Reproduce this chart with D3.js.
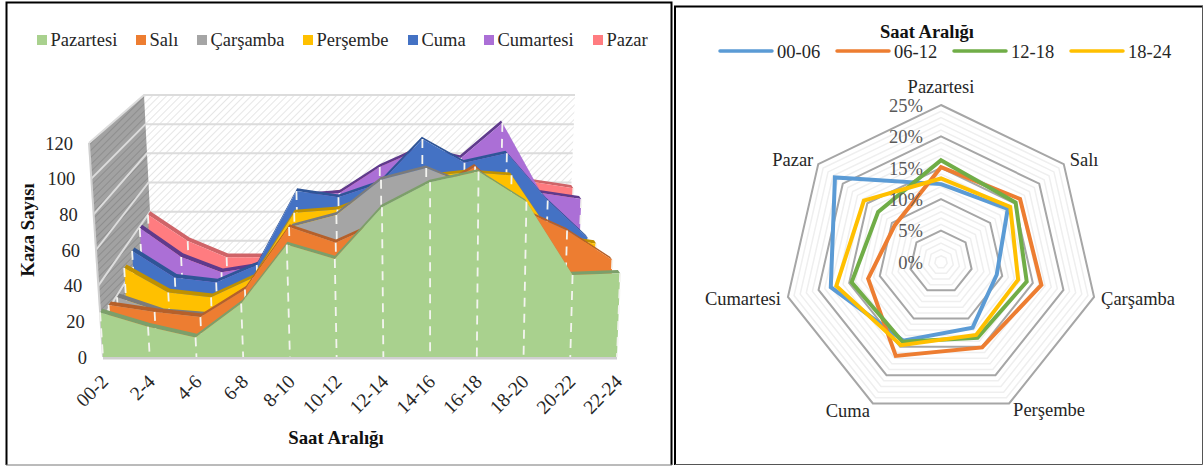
<!DOCTYPE html>
<html lang="tr">
<head>
<meta charset="utf-8">
<script src="https://cdn.jsdelivr.net/npm/d3@7"></script>
<style>
    html, body { margin: 0; padding: 0; background: #fff; }
    text { font-family: "Liberation Serif", "Times New Roman", serif; fill: #262626; }
    .bold { font-weight: bold; fill: #111; }
</style>
</head>
<body>
<div id="chart"></div>
<script>
// left chart data
var hours = ["00-2","2-4","4-6","6-8","8-10","10-12","12-14","14-16","16-18","18-20","20-22","22-24"];
var days = ["Pazartesi","Salı","Çarşamba","Perşembe","Cuma","Cumartesi","Pazar"];
var pazartesi = [25,17,11,30,63,55,84,98,104,87,46,47];
var sali      = [22,18,15,31,67,58,70,85,102,77,65,48];
var carsamba  = [19,10,8,25,61,68,89,96,85,72,55,38];
var persembe  = [29,14,11,23,63,65,75,85,88,86,48,44];
var cuma      = [32,15,12,23,70,66,75,103,88,94,64,40];
var cumartesi = [39,20,10,14,60,62,79,91,85,108,62,58];
var pazar     = [40,22,11,11,50,55,70,85,70,95,62,58];
var yTicks = [0,20,40,60,80,100,120];

// right chart data
var ranges = ["00-06","06-12","12-18","18-24"];
var r0006 = [12.4,13.6,9.1,11.6,13.9,18.0,21.6];
var r0612 = [15.1,16.1,16.4,15.1,16.6,11.9,9.4];
var r1218 = [16.2,15.2,14.0,13.4,14.1,14.6,12.8];
var r1824 = [13.3,14.1,12.6,12.9,14.7,17.1,15.7];
var rMajor = [0,5,10,15,20,25];

var areaSeries = [pazartesi, sali, carsamba, persembe, cuma, cumartesi, pazar];
var radarSeries = [r0006, r0612, r1218, r1824];

var faceColors = ["#a9d18e","#ed7d31","#a5a5a5","#ffc000","#4472c4","#ab6fd6","#ff7c80"];
var edgeColors = ["#7c9f6a","#b5602a","#7b7b7b","#bf9000","#2f5597","#5f3a8c","#cf6468"];
var radarColors = ["#5b9bd5","#ed7d31","#70ad47","#ffc000"];

var svg = d3.select("#chart").append("svg")
    .attr("width", 1203)
    .attr("height", 466)
    .style("display", "block");

// panel frames
svg.append("path").attr("d", "M6.5,465 V2.5 H671.5 V465").attr("fill", "none").attr("stroke", "#000").attr("stroke-width", 2);
svg.append("line").attr("x1", 6).attr("x2", 672).attr("y1", 465).attr("y2", 465).attr("stroke", "#777").attr("stroke-width", 1);
svg.append("path").attr("d", "M675,465 V6.5 H1203").attr("fill", "none").attr("stroke", "#000").attr("stroke-width", 2);
svg.append("path").attr("d", "M1202.5,6 V464.5 H675").attr("fill", "none").attr("stroke", "#555").attr("stroke-width", 1);

var defs = svg.append("defs");
function hatch(id, bg, fg) {
    var p = defs.append("pattern").attr("id", id)
        .attr("width", 5).attr("height", 5)
        .attr("patternUnits", "userSpaceOnUse")
        .attr("patternTransform", "rotate(45)");
    p.append("rect").attr("width", 5).attr("height", 5).attr("fill", bg);
    p.append("line").attr("x1", 0).attr("x2", 0).attr("y1", 0).attr("y2", 5).attr("stroke", fg).attr("stroke-width", 2);
}
hatch("backHatch", "#ffffff", "#e6e6e6");
hatch("sideHatch", "#a2a2a2", "#8e8e8e");

drawArea3d();
drawRadar();

/*
 * 3D stacked-in-depth area chart, t is the depth (0 front, 1 back wall)
 */
function drawArea3d() {
    var g = svg.append("g");

    var index = d3.scaleLinear().domain([0, hours.length - 1]).range([0, 1]);
    var frac = d3.scaleLinear().domain([0, 120]).range([0, 1]);
    function lerp(a, b, t) {
        return a + (b - a) * t;
    }

    function yAt(t) {
        return d3.scaleLinear().domain([0, 120]).range([lerp(357, 270, t), lerp(143, 95, t)]);
    }
    function xAt(i, v, t) {
        var base = lerp(lerp(103, 153, t), lerp(617, 568, t), index(i));
        var top = lerp(lerp(89, 144, t), lerp(625, 575, t), index(i));
        return lerp(base, top, frac(v));
    }
    function pt(i, v, t) {
        return [xAt(i, v, t), yAt(t)(v)];
    }
    var line = d3.line();

    // walls
    g.append("path")
        .attr("d", line([pt(0, 0, 1), pt(0, 120, 1), pt(11, 120, 1), pt(11, 0, 1)]) + "Z")
        .attr("fill", "url(#backHatch)");
    g.append("path")
        .attr("d", line([pt(0, 0, 0), pt(0, 120, 0), pt(0, 120, 1), pt(0, 0, 1)]) + "Z")
        .attr("fill", "url(#sideHatch)");

    // gridlines on both walls
    yTicks.forEach(function(v) {
        g.append("path")
            .attr("d", line([pt(0, v, 0), pt(0, v, 1), pt(11, v, 1)]))
            .attr("fill", "none")
            .attr("stroke", "#dcdcdc")
            .attr("stroke-width", 2);
    });
    g.append("line")
        .attr("x1", xAt(0, 0, 0)).attr("y1", yAt(0)(0))
        .attr("x2", xAt(0, 120, 0)).attr("y2", yAt(0)(120))
        .attr("stroke", "#d0d0d0").attr("stroke-width", 2);
    g.append("line")
        .attr("x1", xAt(11, 0, 0)).attr("y1", yAt(0)(0) + 1)
        .attr("x2", xAt(0, 0, 0)).attr("y2", yAt(0)(0) + 1)
        .attr("stroke", "#cfcfcf").attr("stroke-width", 3);

    // series, back to front
    var depths = [0, 0.16, 0.32, 0.48, 0.64, 0.8, 0.96];
    var thick = 0.045;

    d3.range(areaSeries.length - 1, -1, -1).forEach(function(s) {
        var vals = areaSeries[s];
        var t = depths[s];

        var frontTop = vals.map(function(v, i) { return pt(i, v, t); });
        var backTop = vals.map(function(v, i) { return pt(i, v, t + thick); }).reverse();

        g.append("path")
            .attr("d", line(frontTop.concat(backTop)) + "Z")
            .attr("fill", edgeColors[s]);

        var face = frontTop.concat([pt(hours.length - 1, 0, t), pt(0, 0, t)]);
        g.append("path")
            .attr("d", line(face) + "Z")
            .attr("fill", faceColors[s]);

        // white dashed drop lines
        vals.forEach(function(v, i) {
            g.append("line")
                .attr("x1", xAt(i, v, t)).attr("y1", yAt(t)(v))
                .attr("x2", xAt(i, 0, t)).attr("y2", yAt(t)(0))
                .attr("stroke", "#f4f4f0")
                .attr("stroke-width", 1.8)
                .attr("stroke-dasharray", "9,7");
        });
    });

    // value labels follow the slanted front edge
    g.selectAll(".ytick").data(yTicks).enter().append("text")
        .attr("class", "ytick")
        .attr("x", function(d) { return xAt(0, d, 0) - 16; })
        .attr("y", function(d) { return yAt(0)(d) + 2.5; })
        .attr("text-anchor", "end")
        .attr("dominant-baseline", "middle")
        .style("font-size", "18.5px")
        .text(function(d) { return d; });

    // category axis
    var xScale = d3.scalePoint().domain(hours).range([103, 617]);
    var xAxis = d3.axisBottom(xScale).tickSize(0);
    var ax = g.append("g").attr("transform", "translate(0,378)").call(xAxis);
    ax.select(".domain").remove();
    ax.selectAll("text")
        .attr("x", 0).attr("y", 0).attr("dy", "0.35em")
        .attr("text-anchor", "end")
        .attr("transform", "translate(1,0) rotate(-45)")
        .style("font-size", "19.5px")
        .style("font-family", '"Liberation Serif", serif')
        .style("fill", "#262626");

    g.append("text").attr("class", "bold")
        .attr("x", 336).attr("y", 440)
        .attr("text-anchor", "middle").attr("dominant-baseline", "middle")
        .style("font-size", "18.8px")
        .text("Saat Aralığı");

    g.append("text").attr("class", "bold")
        .attr("transform", "translate(30,230) rotate(-90)")
        .attr("text-anchor", "middle").attr("dominant-baseline", "middle")
        .style("font-size", "18.8px")
        .text("Kaza Sayısı");

    // legend
    var legendX = [37, 136, 197, 303, 408, 484, 593];
    days.forEach(function(d, i) {
        g.append("rect")
            .attr("x", legendX[i]).attr("y", 35)
            .attr("width", 10).attr("height", 10)
            .attr("fill", faceColors[i]);
        g.append("text")
            .attr("x", legendX[i] + 13.5).attr("y", 41.5)
            .attr("dominant-baseline", "middle")
            .style("font-size", "18.5px")
            .text(d);
    });
}

/*
 * Radar chart
 */
function drawRadar() {
    var cx = 941, cy = 262;
    var g = svg.append("g").attr("transform", "translate(" + cx + "," + cy + ")");

    var r = d3.scaleLinear().domain([0, 25]).range([0, 157]);
    var angle = d3.scalePoint().domain(d3.range(days.length + 1)).range([0, 2 * Math.PI]);

    var radial = d3.lineRadial()
        .angle(function(d, i) { return angle(i); })
        .radius(function(d) { return r(d); })
        .curve(d3.curveLinearClosed);

    // 1% minor rings, then the major ones on top
    d3.range(1, 25).forEach(function(v) {
        if (v % 5 === 0) return;
        g.append("path")
            .attr("d", radial(days.map(function() { return v; })))
            .attr("fill", "none")
            .attr("stroke", "#efefef")
            .attr("stroke-width", 1.5);
    });
    rMajor.slice(1).forEach(function(v) {
        g.append("path")
            .attr("d", radial(days.map(function() { return v; })))
            .attr("fill", "none")
            .attr("stroke", "#a6a6a6")
            .attr("stroke-width", 2);
    });

    radarSeries.forEach(function(vals, i) {
        g.append("path")
            .attr("d", radial(vals))
            .attr("fill", "none")
            .attr("stroke", radarColors[i])
            .attr("stroke-width", 4)
            .attr("stroke-linejoin", "miter");
    });

    // percent labels
    g.selectAll(".rtick").data(rMajor).enter().append("text")
        .attr("class", "rtick")
        .attr("x", -18)
        .attr("y", function(d) { return -r(d) + 2.5; })
        .attr("text-anchor", "end")
        .attr("dominant-baseline", "middle")
        .style("font-size", "18.5px")
        .style("fill", "#595959")
        .text(function(d) { return d + "%"; });

    // category labels around the outer ring
    var nudgeX = [0, 6, 7, 4, -3, -7, -5];
    var nudgeY = [-16, -2, 4, 8, 9, 4, -2];
    var anchors = ["middle", "start", "start", "start", "end", "end", "end"];
    days.forEach(function(d, i) {
        var a = angle(i);
        g.append("text")
            .attr("x", r(25) * Math.sin(a) + nudgeX[i])
            .attr("y", -r(25) * Math.cos(a) + nudgeY[i])
            .attr("text-anchor", anchors[i])
            .attr("dominant-baseline", "middle")
            .style("font-size", "18.5px")
            .text(d);
    });

    // legend
    var lg = svg.append("g");
    lg.append("text").attr("class", "bold")
        .attr("x", 927).attr("y", 33.5)
        .attr("text-anchor", "middle").attr("dominant-baseline", "middle")
        .style("font-size", "18.5px")
        .text("Saat Aralığı");

    var legendX = d3.scaleLinear().domain([0, 3]).range([719, 1070]);
    ranges.forEach(function(d, i) {
        lg.append("line")
            .attr("x1", legendX(i) + 1).attr("x2", legendX(i) + 53)
            .attr("y1", 51).attr("y2", 51)
            .attr("stroke", radarColors[i])
            .attr("stroke-width", 3.5)
            .attr("stroke-linecap", "round");
        lg.append("text")
            .attr("x", legendX(i) + 58).attr("y", 53.5)
            .attr("dominant-baseline", "middle")
            .style("font-size", "18.5px")
            .text(d);
    });
}
</script>
</body>
</html>
